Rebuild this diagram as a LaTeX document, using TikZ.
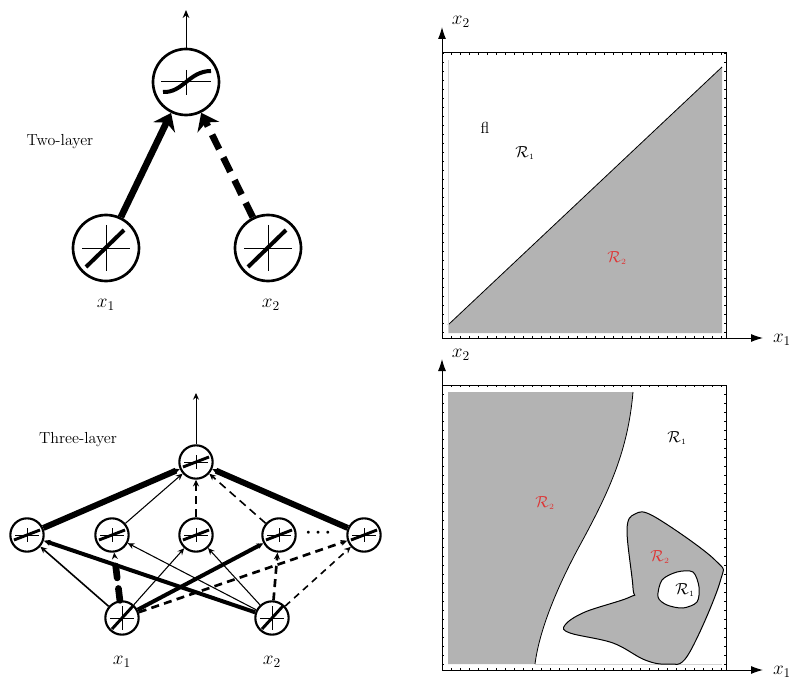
\documentclass[tikz,border=0pt]{standalone}
\usepackage{amsmath}
\usetikzlibrary{arrows.meta}
\tikzset{every picture/.style={line width=0.75pt}}
\definecolor{regiongray}{RGB}{179,179,179}
\definecolor{regionred}{RGB}{222,52,52}

\begin{document}
\begin{tikzpicture}[x=0.75pt,y=0.75pt,yscale=-1,xscale=1,
	bigunit/.style={circle,draw,line width=2,minimum size=49.5pt,inner sep=0pt},
	smallunit/.style={circle,draw,line width=1.6,minimum size=25pt,inner sep=0pt},
	bigarrow/.style={line width=5,-{Stealth[length=12pt,width=18pt]}},
	smallarrow/.style={-{Stealth[length=5pt,width=4.5pt]}},
	regionlabel/.style={font=\large},
	]
	\useasboundingbox (0,0) rectangle (789,681);

	%Two-layer network
	\node [bigunit] (to) at (186,82) {};
	\node [bigunit] (ti1) at (106,248) {};
	\node [bigunit] (ti2) at (268,248) {};
	\coordinate (tout) at (186,10);
	\draw [-{Stealth[length=6pt,width=5pt]}] (to) -- (tout);
	\draw [bigarrow] (ti1) -- (to);
	\draw [bigarrow,dash pattern=on 12pt off 7pt] (ti2) -- (to);
	%glyphs
	\draw ([shift={(-25,0)}]to.center) -- ([shift={(25,0)}]to.center);
	\draw ([shift={(0,-12)}]to.center) -- ([shift={(0,13)}]to.center);
	\draw [line width=3] ([shift={(-23,10)}]to.center) .. controls ([shift={(-3,11)}]to.center) and ([shift={(3,-11)}]to.center) .. ([shift={(25,-11)}]to.center);
	\foreach \n in {ti1,ti2} {
		\draw ([shift={(-24,0)}]\n.center) -- ([shift={(24,0)}]\n.center);
		\draw ([shift={(0,-23)}]\n.center) -- ([shift={(0,23)}]\n.center);
		\draw [line width=3] ([shift={(-20,19)}]\n.center) -- ([shift={(18,-18)}]\n.center);
	}
	% Text Node
	\node (twolayer) at (60,142) {\large Two-layer};
	\node (tx1) at (106,305) {\Large $x_1$};
	\node (tx2) at (271,305) {\Large $x_2$};

	%Three-layer network
	\node [smallunit] (o) at (196,462) {};
	\foreach \n/\x in {h1/27,h2/112,h3/196,h4/279,h5/364}
		\node [smallunit] (\n) at (\x,535) {};
	\node [smallunit] (i1) at (122,618) {};
	\node [smallunit] (i2) at (272,618) {};
	\coordinate (oout) at (196,393);
	\draw [smallarrow] (o) -- (oout);
	%hidden to output
	\draw [smallarrow,line width=4.5] (h1) -- (o);
	\draw [smallarrow,line width=0.8] (h2) -- (o);
	\draw [smallarrow,line width=2,dash pattern=on 6pt off 4pt] (h3) -- (o);
	\draw [smallarrow,line width=1.2,dash pattern=on 6pt off 4pt] (h4) -- (o);
	\draw [smallarrow,line width=4.5] (h5) -- (o);
	%input to hidden
	\draw [smallarrow,line width=1.2] (i1) -- (h1);
	\draw [smallarrow,line width=5,line cap=round,dash pattern=on 9pt off 8pt] (i1) -- (h2);
	\draw [smallarrow,line width=0.8] (i1) -- (h3);
	\draw [smallarrow,line width=3] (i1) -- (h4);
	\draw [smallarrow,line width=2,dash pattern=on 6pt off 4pt] (i1) -- (h5);
	\draw [smallarrow,line width=3] (i2) -- (h1);
	\draw [smallarrow,line width=0.8] (i2) -- (h2);
	\draw [smallarrow,line width=0.8] (i2) -- (h3);
	\draw [smallarrow,line width=2,dash pattern=on 6pt off 4pt] (i2) -- (h4);
	\draw [smallarrow,line width=1.2,dash pattern=on 5pt off 4pt] (i2) -- (h5);
	%glyphs
	\foreach \n in {o,h1,h2,h3,h4,h5} {
		\draw ([shift={(-12,0)}]\n.center) -- ([shift={(12,0)}]\n.center);
		\draw ([shift={(0,-7)}]\n.center) -- ([shift={(0,7)}]\n.center);
		\draw [line width=2.2] ([shift={(-13,5)}]\n.center) -- ([shift={(13,-5)}]\n.center);
	}
	\foreach \n in {i1,i2} {
		\draw ([shift={(-12,0)}]\n.center) -- ([shift={(12,0)}]\n.center);
		\draw ([shift={(0,-12)}]\n.center) -- ([shift={(0,12)}]\n.center);
		\draw [line width=2.2] ([shift={(-10,11)}]\n.center) -- ([shift={(11,-12)}]\n.center);
	}
	% Text Node
	\node (threelayer) at (78,440) {\large Three-layer};
	\node (dots) at (320,533) {\Large $\boldsymbol{\cdots}$};
	\node (bx1) at (122,662) {\Large $x_1$};
	\node (bx2) at (272,662) {\Large $x_2$};

	%Top decision plot
	\fill [regiongray] (448,325) -- (722,67) -- (722,333) -- (448,333) -- cycle;
	\draw [line width=0.6] (448,325) -- (722,67);
	\draw [gray!35,line width=0.6] (448,60) -- (448,333);

	%Bottom decision plot
	\fill [regiongray] (448,392) -- (633,392) .. controls (628,450) and (610,490) .. (580,545) .. controls (562,578) and (540,625) .. (535,664) -- (448,664) -- cycle;
	\draw [line width=0.6] (633,392) .. controls (628,450) and (610,490) .. (580,545) .. controls (562,578) and (540,625) .. (535,664);
	\draw [gray!35,line width=0.6] (535,664) -- (722,664);
	\draw [fill=regiongray] plot [smooth cycle,tension=0.6] coordinates {(635,514) (655,517) (715,560) (720,582) (688,655) (668,664) (645,660) (613,643) (570,633) (565,625) (585,612) (630,597) (633,588) (627,530)};
	\draw [fill=white] plot [smooth cycle] coordinates {(658,597) (662,580) (677,572) (693,572) (699,587) (697,602) (683,608) (667,605)};

	%Frames, ticks and axes
	\foreach \dy in {0,332} {
		\draw (442,53+\dy) rectangle (726,338+\dy);
		\foreach \t in {0,9,...,279} {
			\draw [line width=0.4] (442+\t,53+\dy) -- (442+\t,55+\dy);
			\draw [line width=0.4] (442+\t,338+\dy) -- (442+\t,336+\dy);
			\draw [line width=0.4] (442,53+\t+\dy) -- (444,53+\t+\dy);
			\draw [line width=0.4] (726,53+\t+\dy) -- (724,53+\t+\dy);
		}
		\draw [-{Latex[length=9pt,width=6pt]}] (442,338+\dy) -- (442,27+\dy);
		\draw [-{Latex[length=9pt,width=6pt]}] (442,338+\dy) -- (763,338+\dy);
	}

	% Text Node
	\node (ax2a) at (461,22) {\Large $x_2$};
	\node (ax1a) at (782,340) {\Large $x_1$};
	\node (ax2b) at (461,355) {\Large $x_2$};
	\node (ax1b) at (782,672) {\Large $x_1$};
	\node (fl) at (485,128) {\large fl};
	\node [regionlabel] (ra1) at (525,153) {$\mathcal{R}_{\scriptscriptstyle 1}$};
	\node [regionlabel,text=regionred] (ra2) at (617,258) {$\mathcal{R}_{\scriptscriptstyle 2}$};
	\node [regionlabel] (rb1) at (677,438) {$\mathcal{R}_{\scriptscriptstyle 1}$};
	\node [regionlabel,text=regionred] (rb2) at (545,503) {$\mathcal{R}_{\scriptscriptstyle 2}$};
	\node [regionlabel,text=regionred] (rb3) at (660,557) {$\mathcal{R}_{\scriptscriptstyle 2}$};
	\node [regionlabel] (rb4) at (685,590) {$\mathcal{R}_{\scriptscriptstyle 1}$};
\end{tikzpicture}
\end{document}
